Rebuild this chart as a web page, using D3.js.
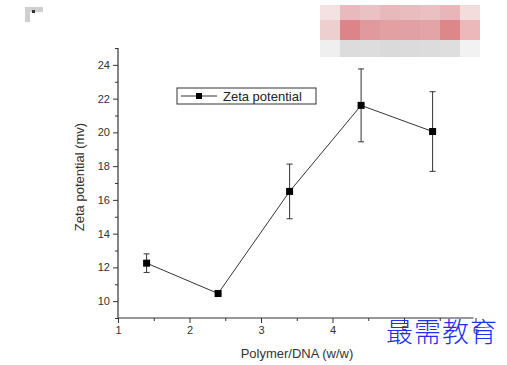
<!DOCTYPE html>
<html>
<head>
<meta charset="utf-8">
<script src="https://cdn.jsdelivr.net/npm/d3@7"></script>
<style>
  body { margin: 0; background: #fff; }
  text { font-family: "Liberation Sans", Arial, sans-serif; }
</style>
</head>
<body>
<div id="plot"></div>
<script>
// data
const ratio = [1.4, 2.4, 3.4, 4.4, 5.4];
const zeta = [12.25, 10.45, 16.5, 21.6, 20.05];
const zetaErr = [0.55, 0, 1.62, 2.16, 2.36];
const xTicks = [1, 2, 3, 4, 5, 6];
const yTicks = [10, 12, 14, 16, 18, 20, 22, 24];
const seriesName = "Zeta potential";

// blurred watermark block (top right)
const blurRows = [
  ["#f4e2e2", "#e9babd", "#eac2c4", "#e8b9bb", "#e9bcbe", "#eac0c2", "#e8b6b8", "#f2dcdc"],
  ["#eecfd0", "#dc8489", "#e09a9d", "#e2a0a3", "#e1a0a3", "#e2a4a7", "#de878b", "#ecb8ba"],
  ["#efefef", "#dcdcdc", "#dddddd", "#dadada", "#dbdbdb", "#dcdcdc", "#dedede", "#f2f2f2"]
];
const blurRowH = [15, 20, 17];

const svgWidth = 507, svgHeight = 365;
const margin = { top: 48, left: 118 };
const width = 357.5, height = 270;

const svg = d3.select("#plot").append("svg")
  .attr("width", svgWidth).attr("height", svgHeight);

const x = d3.scaleLinear().domain([1, 6]).range([margin.left, margin.left + width]);
const y = d3.scaleLinear().domain([9, 25]).range([margin.top + height, margin.top]);

// corner mark top-left
svg.append("path").attr("d", "M25,7 H43 V12 H30 V22 H25 Z").attr("fill", "#cfcfcf");
svg.append("rect").attr("x", 32).attr("y", 10).attr("width", 3).attr("height", 3).attr("fill", "#333");

// blurred block
let by = 5;
blurRows.forEach((row, r) => {
  row.forEach((c, i) => {
    svg.append("rect").attr("x", 320 + i * 20).attr("y", by)
      .attr("width", 20).attr("height", blurRowH[r]).attr("fill", c);
  });
  by += blurRowH[r];
});

// axes
const axisColor = "#333";
const yAxis = svg.append("g").attr("transform", `translate(${margin.left},0)`)
  .call(d3.axisLeft(y).tickValues(yTicks).tickSize(5).tickPadding(3).tickFormat(d3.format("d")));
const yMinor = svg.append("g").attr("transform", `translate(${margin.left},0)`)
  .call(d3.axisLeft(y).tickValues(d3.range(9, 26, 1).filter(v => !yTicks.includes(v))).tickSize(3).tickFormat(""));
const xAxis = svg.append("g").attr("transform", `translate(0,${margin.top + height})`)
  .call(d3.axisBottom(x).tickValues(xTicks).tickSize(5).tickPadding(3).tickFormat(d3.format("d")));
const xMinor = svg.append("g").attr("transform", `translate(0,${margin.top + height})`)
  .call(d3.axisBottom(x).tickValues([1.5, 2.5, 3.5, 4.5, 5.5]).tickSize(3).tickFormat(""));

[yAxis, yMinor, xAxis, xMinor].forEach(g => {
  g.select(".domain").attr("stroke", axisColor).attr("stroke-width", 1.2);
  g.selectAll(".tick line").attr("stroke", axisColor);
  g.selectAll("text").attr("fill", "#333").style("font-size", "11px")
    .style("font-family", "'Liberation Sans', Arial, sans-serif");
});
// plain outer ends
yAxis.select(".domain").attr("d", `M0,${margin.top}V${margin.top + height}`);
yMinor.select(".domain").remove();
xAxis.select(".domain").attr("d", `M${margin.left},0H${margin.left + width - 2}`);
xMinor.select(".domain").remove();

// axis titles
svg.append("text")
  .attr("transform", `translate(84,${margin.top + height / 2 - 6}) rotate(-90)`)
  .attr("text-anchor", "middle").attr("fill", "#333").style("font-size", "13px")
  .text("Zeta potential (mv)");
svg.append("text")
  .attr("x", 297).attr("y", 358)
  .attr("text-anchor", "middle").attr("fill", "#333").style("font-size", "13px")
  .text("Polymer/DNA (w/w)");

const pts = ratio.map((r, i) => ({ r, v: zeta[i], e: zetaErr[i] }));

// line
svg.append("path").datum(pts)
  .attr("fill", "none").attr("stroke", "#333").attr("stroke-width", 1)
  .attr("d", d3.line().x(d => x(d.r)).y(d => y(d.v)));

// error bars
const eb = svg.selectAll(".err").data(pts.filter(d => d.e > 0)).enter().append("g");
eb.append("line")
  .attr("x1", d => x(d.r)).attr("x2", d => x(d.r))
  .attr("y1", d => y(d.v + d.e)).attr("y2", d => y(d.v - d.e))
  .attr("stroke", "#333");
eb.append("line")
  .attr("x1", d => x(d.r) - 3).attr("x2", d => x(d.r) + 3)
  .attr("y1", d => y(d.v + d.e)).attr("y2", d => y(d.v + d.e))
  .attr("stroke", "#333");
eb.append("line")
  .attr("x1", d => x(d.r) - 3).attr("x2", d => x(d.r) + 3)
  .attr("y1", d => y(d.v - d.e)).attr("y2", d => y(d.v - d.e))
  .attr("stroke", "#333");

// markers
svg.selectAll(".pt").data(pts).enter().append("rect")
  .attr("x", d => x(d.r) - 3.5).attr("y", d => y(d.v) - 3.5)
  .attr("width", 7).attr("height", 7).attr("fill", "#000");

// legend
const lg = svg.append("g").attr("transform", "translate(177,88)");
lg.append("rect").attr("width", 139).attr("height", 16)
  .attr("fill", "#fff").attr("stroke", "#333");
lg.append("line").attr("x1", 4).attr("x2", 40).attr("y1", 8).attr("y2", 8).attr("stroke", "#333");
lg.append("rect").attr("x", 19).attr("y", 5).attr("width", 6).attr("height", 6).attr("fill", "#000");
lg.append("text").attr("x", 46).attr("y", 13).attr("fill", "#222")
  .style("font-size", "13px").text(seriesName);

// watermark
svg.append("text").attr("x", 386).attr("y", 342)
  .attr("fill", "#1f2ef0").style("font-size", "27px")
  .style("font-family", "'Noto Sans CJK SC', sans-serif")
  .style("font-weight", 300)
  .style("letter-spacing", "1px")
  .text("最需教育");
</script>
</body>
</html>
